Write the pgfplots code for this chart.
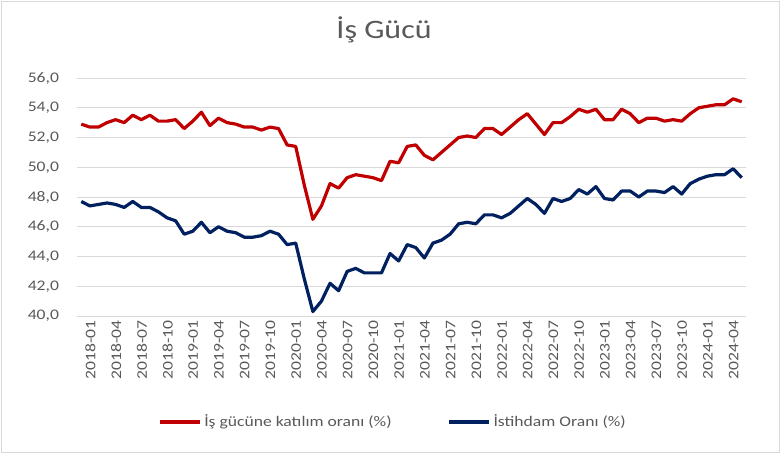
\documentclass[border=0pt]{standalone}
\usepackage{fontspec}
\setmainfont{Carlito}[FakeStretch=1.2]
\usepackage{pgfplots}
\pgfplotsset{compat=1.18}
\usepackage{pgfplotstable}
\definecolor{lfpred}{HTML}{C00000}
\definecolor{empblue}{HTML}{002060}
\definecolor{txtgray}{HTML}{595959}
\definecolor{gridgray}{HTML}{D9D9D9}

% idx: months from 2018-01
\pgfplotstableread{
idx lfp  emp
0   52.9 47.7
1   52.7 47.4
2   52.7 47.5
3   53.0 47.6
4   53.2 47.5
5   53.0 47.3
6   53.5 47.7
7   53.2 47.3
8   53.5 47.3
9   53.1 47.0
10  53.1 46.6
11  53.2 46.4
12  52.6 45.5
13  53.1 45.7
14  53.7 46.3
15  52.8 45.6
16  53.3 46.0
17  53.0 45.7
18  52.9 45.6
19  52.7 45.3
20  52.7 45.3
21  52.5 45.4
22  52.7 45.7
23  52.6 45.5
24  51.5 44.8
25  51.4 44.9
26  48.8 42.5
27  46.5 40.3
28  47.4 41.0
29  48.9 42.2
30  48.6 41.7
31  49.3 43.0
32  49.5 43.2
33  49.4 42.9
34  49.3 42.9
35  49.1 42.9
36  50.4 44.2
37  50.3 43.7
38  51.4 44.8
39  51.5 44.6
40  50.8 43.9
41  50.5 44.9
42  51.0 45.1
43  51.5 45.5
44  52.0 46.2
45  52.1 46.3
46  52.0 46.2
47  52.6 46.8
48  52.6 46.8
49  52.2 46.6
50  52.7 46.9
51  53.2 47.4
52  53.6 47.9
53  52.9 47.5
54  52.2 46.9
55  53.0 47.9
56  53.0 47.7
57  53.4 47.9
58  53.9 48.5
59  53.7 48.2
60  53.9 48.7
61  53.2 47.9
62  53.2 47.8
63  53.9 48.4
64  53.6 48.4
65  53.0 48.0
66  53.3 48.4
67  53.3 48.4
68  53.1 48.3
69  53.2 48.7
70  53.1 48.2
71  53.6 48.9
72  54.0 49.2
73  54.1 49.4
74  54.2 49.5
75  54.2 49.5
76  54.6 49.9
77  54.4 49.3
}\datatable

\begin{document}
\begin{tikzpicture}
\begin{axis}[
    at={(0,0)}, anchor=south west,
    scale only axis,
    width=501.75pt, height=178.5pt,
    xmin=-0.5, xmax=77.5,
    ymin=40, ymax=56,
    ytick={40,42,...,56},
    xtick={0,3,...,75},
    xticklabels={2018-01,2018-04,2018-07,2018-10,2019-01,2019-04,2019-07,2019-10,
      2020-01,2020-04,2020-07,2020-10,2021-01,2021-04,2021-07,2021-10,
      2022-01,2022-04,2022-07,2022-10,2023-01,2023-04,2023-07,2023-10,
      2024-01,2024-04},
    axis line style={draw=none},
    major tick length=0pt,
    ymajorgrids,
    grid style={gridgray, line width=0.75pt},
    /pgf/number format/assume math mode=true,
    /pgf/number format/.cd, fixed, fixed zerofill, precision=1, use comma, /pgfplots/.cd,
    ticklabel style={font=\fontsize{11}{13}\selectfont, text=txtgray},
    yticklabel style={anchor=east, xshift=-10pt},
    xticklabel style={rotate=90, anchor=east, yshift=-6.8pt},
    title={İş Gücü},
    title style={at={(axis description cs:0.459,1)}, anchor=center, yshift=30pt,
      font=\fontsize{20}{24}\selectfont, text=txtgray},
    legend columns=2,
    legend style={at={(axis description cs:0.473,-0.445)}, anchor=center,
      draw=none, fill=none, font=\fontsize{11}{13}\selectfont, text=txtgray,
      /tikz/every even column/.append style={column sep=40pt}},
    legend image code/.code={\draw[#1] (0pt,0pt) -- (30pt,0pt);},
]
\addplot[lfpred, line width=2.4pt, line join=round] table[x=idx, y=lfp] {\datatable};
\addlegendentry{İş gücüne katılım oranı (\%)}
\addplot[empblue, line width=2.4pt, line join=round] table[x=idx, y=emp] {\datatable};
\addlegendentry{İstihdam Oranı (\%)}
\end{axis}
\draw[gridgray, line width=0.75pt] (-56.6pt,-102.4pt) rectangle (526.9pt,235.9pt);
\useasboundingbox (-57.75pt,-103.5pt) rectangle (528pt,237pt);
\end{tikzpicture}
\end{document}
